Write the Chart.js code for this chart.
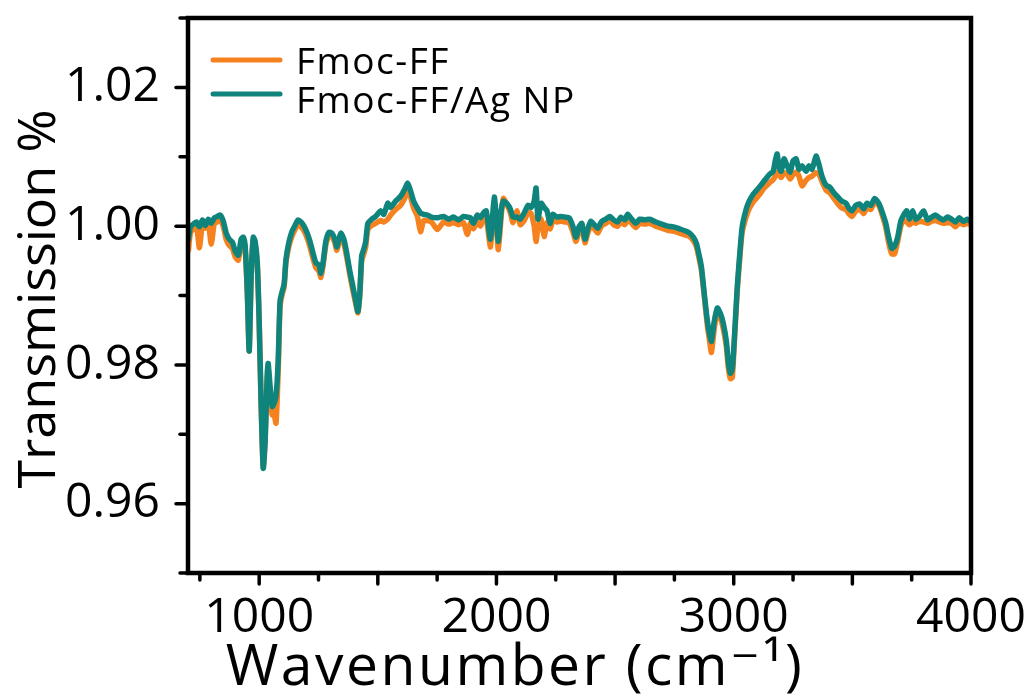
<!DOCTYPE html>
<html>
<head>
  <title>FTIR Fmoc-FF</title>
  <script src="https://cdn.jsdelivr.net/npm/chart.js@4.4.0/dist/chart.umd.min.js"></script>
  <style>
    body { margin: 0; background: #fff; }
  </style>
</head>
<body>
  <div style="position: relative; width:1030px; height:700px;">
    <canvas id="ftir" width="1030" height="700"></canvas>
  </div>
  <script>
    // wavenumber (cm-1)
    var wavenumber = [702,710,723,736,748,761,773,786,798,811,824,836,849,861,874,887,899,912,924,933,941,950,958,966,975,983,992,1000,1008,1017,1025,1034,1038,1046,1055,1063,1071,1080,1088,1097,1105,1113,1126,1139,1151,1164,1176,1189,1202,1214,1227,1239,1252,1260,1269,1281,1294,1306,1319,1327,1336,1344,1357,1369,1382,1395,1407,1416,1424,1432,1441,1449,1458,1474,1491,1512,1525,1542,1554,1575,1596,1613,1626,1638,1651,1667,1680,1693,1709,1726,1751,1777,1798,1819,1840,1861,1877,1890,1903,1919,1932,1945,1957,1974,1982,1991,1999,2008,2020,2029,2045,2058,2070,2087,2100,2117,2133,2146,2159,2167,2175,2188,2201,2213,2226,2238,2255,2272,2289,2306,2322,2335,2348,2360,2373,2385,2398,2415,2427,2444,2461,2478,2494,2511,2524,2541,2553,2570,2587,2604,2625,2646,2671,2696,2721,2746,2772,2797,2814,2830,2843,2856,2864,2877,2889,2898,2906,2918,2931,2944,2956,2969,2977,2986,2994,3002,3015,3028,3036,3053,3065,3082,3095,3112,3128,3149,3166,3175,3183,3191,3200,3212,3225,3238,3250,3263,3275,3288,3305,3317,3330,3347,3359,3372,3389,3405,3422,3439,3456,3473,3485,3498,3515,3531,3548,3561,3578,3594,3611,3624,3641,3653,3666,3678,3691,3704,3716,3729,3741,3754,3767,3783,3800,3817,3834,3850,3867,3884,3901,3918,3934,3951,3968,3985,4000];

    // Fmoc-FF (orange)
    var fmocFF = [0.9965,0.9990,0.9996,1.0000,0.9969,1.0003,0.9997,1.0004,0.9974,1.0004,
      1.0006,1.0009,0.9999,0.9981,0.9972,0.9968,0.9956,0.9951,0.9975,0.9979,
      0.9966,0.9903,0.9820,0.9925,0.9980,0.9974,0.9944,0.9862,0.9746,0.9652,
      0.9690,0.9780,0.9790,0.9755,0.9728,0.9728,0.9716,0.9790,0.9885,0.9902,
      0.9912,0.9948,0.9972,0.9986,0.9995,1.0003,0.9999,0.9993,0.9983,0.9970,
      0.9953,0.9940,0.9935,0.9926,0.9942,0.9973,0.9986,0.9985,0.9976,0.9965,
      0.9976,0.9985,0.9975,0.9955,0.9930,0.9907,0.9888,0.9875,0.9900,0.9950,
      0.9960,0.9970,0.9995,1.0001,1.0004,1.0008,1.0006,1.0010,1.0016,1.0024,
      1.0030,1.0040,1.0050,1.0042,1.0026,1.0014,0.9992,1.0008,1.0008,1.0006,
      0.9995,1.0006,1.0003,1.0005,1.0002,1.0005,0.9988,1.0004,0.9996,1.0006,
      1.0000,1.0010,1.0012,0.9970,1.0000,1.0030,1.0006,0.9966,1.0014,1.0040,
      1.0030,1.0020,1.0005,1.0022,1.0002,1.0008,1.0020,1.0018,1.0000,0.9978,
      0.9998,1.0010,0.9985,1.0005,0.9996,1.0008,1.0006,1.0007,1.0006,1.0005,
      0.9992,0.9978,0.9992,0.9997,0.9976,0.9990,1.0000,0.9995,0.9990,1.0001,
      1.0004,1.0008,1.0002,1.0000,1.0006,1.0002,1.0009,1.0004,0.9998,1.0004,
      1.0003,1.0004,1.0000,0.9997,0.9994,0.9993,0.9990,0.9987,0.9985,0.9979,
      0.9970,0.9950,0.9936,0.9895,0.9856,0.9835,0.9818,0.9852,0.9877,0.9868,
      0.9852,0.9826,0.9796,0.9780,0.9782,0.9828,0.9908,0.9964,0.9992,1.0014,
      1.0025,1.0035,1.0040,1.0047,1.0055,1.0062,1.0067,1.0072,1.0078,1.0074,
      1.0070,1.0077,1.0075,1.0068,1.0074,1.0078,1.0072,1.0058,1.0066,1.0070,
      1.0072,1.0077,1.0075,1.0064,1.0052,1.0048,1.0040,1.0032,1.0026,1.0024,
      1.0018,1.0014,1.0022,1.0024,1.0018,1.0026,1.0024,1.0034,1.0030,1.0018,
      0.9998,0.9976,0.9960,0.9960,0.9978,1.0000,1.0008,1.0006,1.0002,1.0006,
      1.0004,1.0007,1.0006,1.0004,1.0007,1.0008,1.0006,1.0004,1.0005,1.0004,
      0.9999,1.0005,1.0002,1.0004,1.0002];

    // Fmoc-FF/Ag NP (teal)
    var fmocFFAg = [0.9981,0.9999,1.0003,1.0006,0.9999,1.0009,1.0001,1.0010,1.0004,1.0012,
      1.0014,1.0016,1.0007,0.9990,0.9981,0.9977,0.9964,0.9958,0.9981,0.9984,
      0.9971,0.9906,0.9820,0.9928,0.9984,0.9978,0.9947,0.9863,0.9747,0.9651,
      0.9690,0.9788,0.9802,0.9769,0.9740,0.9745,0.9755,0.9805,0.9892,0.9906,
      0.9916,0.9952,0.9978,0.9993,1.0001,1.0009,1.0006,1.0000,0.9990,0.9978,
      0.9961,0.9947,0.9944,0.9932,0.9947,0.9978,0.9991,0.9990,0.9981,0.9970,
      0.9981,0.9990,0.9981,0.9961,0.9935,0.9913,0.9892,0.9877,0.9903,0.9957,
      0.9967,0.9978,1.0004,1.0010,1.0014,1.0022,1.0017,1.0033,1.0027,1.0036,
      1.0043,1.0053,1.0062,1.0051,1.0036,1.0026,1.0019,1.0017,1.0016,1.0013,
      1.0012,1.0014,1.0010,1.0013,1.0009,1.0014,1.0013,1.0012,1.0004,1.0016,
      1.0012,1.0019,1.0022,0.9981,1.0007,1.0042,1.0014,0.9978,1.0022,1.0036,
      1.0032,1.0025,1.0013,1.0013,1.0010,1.0019,1.0030,1.0027,1.0036,1.0055,
      1.0010,1.0033,1.0027,1.0022,1.0004,1.0017,1.0013,1.0014,1.0013,1.0012,
      1.0000,0.9984,0.9999,1.0004,0.9981,0.9996,1.0007,1.0001,0.9997,1.0007,
      1.0010,1.0014,1.0009,1.0006,1.0013,1.0009,1.0017,1.0010,1.0004,1.0010,
      1.0009,1.0010,1.0006,1.0003,1.0000,0.9999,0.9996,0.9993,0.9990,0.9984,
      0.9975,0.9955,0.9941,0.9899,0.9863,0.9844,0.9834,0.9863,0.9882,0.9874,
      0.9860,0.9834,0.9805,0.9788,0.9794,0.9834,0.9913,0.9971,1.0000,1.0025,
      1.0036,1.0046,1.0051,1.0058,1.0065,1.0074,1.0079,1.0094,1.0104,1.0085,
      1.0079,1.0097,1.0087,1.0078,1.0094,1.0097,1.0082,1.0087,1.0079,1.0087,
      1.0082,1.0101,1.0089,1.0072,1.0059,1.0056,1.0048,1.0042,1.0036,1.0033,
      1.0026,1.0022,1.0030,1.0032,1.0025,1.0033,1.0030,1.0040,1.0033,1.0022,
      1.0004,0.9984,0.9968,0.9971,0.9984,1.0007,1.0016,1.0022,1.0010,1.0022,
      1.0010,1.0014,1.0022,1.0009,1.0013,1.0016,1.0012,1.0009,1.0013,1.0010,
      1.0006,1.0012,1.0007,1.0010,1.0006];

    var xLabels = [1000, 2000, 3000, 4000];
    var yLabels = [0.96, 0.98, 1.00, 1.02];
    var xMinorStep = 250, yMinorStep = 0.01;
    var seriesNames = ['Fmoc-FF', 'Fmoc-FF/Ag NP'];
    var seriesColors = ['#F5821F', '#0F847D'];

    function toPoints(ys) {
      return wavenumber.map(function (w, i) { return { x: w, y: ys[i] }; });
    }
    function isLabelX(v) { return xLabels.indexOf(Math.round(v)) >= 0; }
    function isLabelY(v) {
      return yLabels.some(function (l) { return Math.abs(l - v) < 1e-6; });
    }

    var FONT = '"Open Sans", "DejaVu Sans", sans-serif';

    // frame, tick marks, legend and axis titles
    var decorations = {
      id: 'decorations',
      afterDraw: function (chart) {
        var ctx = chart.ctx, a = chart.chartArea;
        var x = chart.scales.x, y = chart.scales.y;
        ctx.save();
        ctx.strokeStyle = '#000';
        ctx.lineCap = 'round';
        ctx.lineWidth = 3.5;
        x.ticks.forEach(function (t) {
          var px = x.getPixelForValue(t.value);
          var len = (Math.round(t.value) % 500 === 0) ? 11 : 7;
          ctx.beginPath();
          ctx.moveTo(px, a.bottom);
          ctx.lineTo(px, a.bottom + len);
          ctx.stroke();
        });
        y.ticks.forEach(function (t) {
          var py = y.getPixelForValue(t.value);
          var len = isLabelY(t.value) ? 12 : 8;
          ctx.beginPath();
          ctx.moveTo(a.left - len, py);
          ctx.lineTo(a.left, py);
          ctx.stroke();
        });
        ctx.lineCap = 'butt';
        ctx.lineWidth = 4.5;
        ctx.strokeRect(a.left, a.top, a.right - a.left, a.bottom - a.top);

        // legend
        var rows = [60, 94];
        ctx.font = '37px ' + FONT;
        ctx.letterSpacing = '1.5px';
        ctx.textAlign = 'left';
        ctx.textBaseline = 'middle';
        chart.data.datasets.forEach(function (ds, i) {
          ctx.strokeStyle = ds.borderColor;
          ctx.lineWidth = 5;
          ctx.lineCap = 'round';
          ctx.beginPath();
          ctx.moveTo(213, rows[i]);
          ctx.lineTo(280, rows[i]);
          ctx.stroke();
          ctx.fillStyle = '#000';
          ctx.fillText(ds.label, 296, rows[i] + (i === 0 ? 3 : 8));
        });

        // axis titles
        ctx.fillStyle = '#000';
        ctx.font = '57px ' + FONT;
        ctx.letterSpacing = '2.5px';
        ctx.textAlign = 'center';
        ctx.textBaseline = 'alphabetic';
        ctx.fillText('Wavenumber (cm\u207B\u00B9)', 515, 685);
        ctx.letterSpacing = '0px';
        ctx.font = '52px ' + FONT;
        ctx.translate(55, 299);
        ctx.rotate(-Math.PI / 2);
        ctx.fillText('Transmission %', 0, 0);
        ctx.restore();
      }
    };

    function minorTicks(step) {
      return function (s) {
        var ticks = [];
        var start = Math.ceil(s.min / step - 1e-9);
        for (var k = start; k * step <= s.max + 1e-9; k++) {
          ticks.push({ value: Math.round(k * step * 1e6) / 1e6 });
        }
        s.ticks = ticks;
      };
    }

    new Chart(document.getElementById('ftir'), {
      type: 'line',
      data: {
        datasets: [{
          label: seriesNames[0],
          data: toPoints(fmocFF),
          borderColor: seriesColors[0],
          order: 1
        }, {
          label: seriesNames[1],
          data: toPoints(fmocFFAg),
          borderColor: seriesColors[1],
          order: 0
        }]
      },
      options: {
        responsive: false,
        animation: false,
        layout: { autoPadding: false, padding: { top: 18, right: 59, left: 0, bottom: 0 } },
        elements: {
          line: { borderWidth: 5.5, tension: 0.2, borderJoinStyle: 'round', borderCapStyle: 'round', fill: false },
          point: { radius: 0 }
        },
        plugins: {
          legend: { display: false },
          tooltip: { enabled: false }
        },
        scales: {
          x: {
            type: 'linear',
            min: 700,
            max: 4000,
            afterBuildTicks: minorTicks(xMinorStep),
            afterFit: function (s) {
              s.height = 127;
              s.paddingLeft = 0; s.paddingRight = 0;
            },
            grid: { display: false },
            border: { display: false },
            ticks: {
              autoSkip: false,
              maxRotation: 0,
              padding: 9,
              color: '#000',
              font: { family: FONT, size: 48 },
              callback: function (v) { return isLabelX(v) ? String(Math.round(v)) : ''; }
            }
          },
          y: {
            min: 0.95,
            max: 1.03,
            afterBuildTicks: minorTicks(yMinorStep),
            afterFit: function (s) {
              s.width = 188;
              s.paddingTop = 0; s.paddingBottom = 0;
            },
            grid: { display: false },
            border: { display: false },
            ticks: {
              autoSkip: false,
              padding: 20,
              color: '#000',
              font: { family: FONT, size: 48 },
              callback: function (v) { return isLabelY(v) ? v.toFixed(2) : ''; }
            }
          }
        }
      },
      plugins: [decorations]
    });
  </script>
</body>
</html>
